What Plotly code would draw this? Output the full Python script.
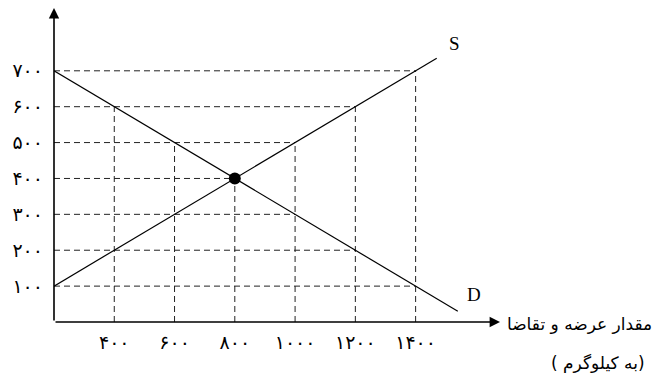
import plotly.graph_objects as go

# --- dados ---
quantity = [400, 600, 800, 1000, 1200, 1400]
demand_price = [600, 500, 400, 300, 200, 100]
supply_price = [200, 300, 400, 500, 600, 700]
price_ticks = [100, 200, 300, 400, 500, 600, 700]

# curvas (inclui pontos no eixo e extremidades)
demand_q = [200] + quantity + [1540]
demand_p = [700] + demand_price + [30]
supply_q = [200] + quantity + [1470]
supply_p = [100] + supply_price + [735]

eq_q, eq_p = 800, 400
q_min, q_max = 200, 1680
p_max = 875

FA = str.maketrans("0123456789", "۰۱۲۳۴۵۶۷۸۹")


def fa(n):
    return str(n).translate(FA)


fig = go.Figure()

# linhas tracejadas verticais (do eixo até a curva mais alta)
vx, vy = [], []
for q, d, s in zip(quantity, demand_price, supply_price):
    vx += [q, q, None]
    vy += [0, max(d, s), None]

# linhas tracejadas horizontais (do eixo até a curva mais distante)
hx, hy = [], []
for p in price_ticks:
    qd = demand_q[demand_p.index(p)]
    qs = supply_q[supply_p.index(p)]
    hx += [q_min, max(qd, qs), None]
    hy += [p, p, None]

dash_style = dict(color="#222", width=1, dash="6px,4px")
fig.add_trace(go.Scatter(x=vx, y=vy, mode="lines", line=dash_style, hoverinfo="skip"))
fig.add_trace(go.Scatter(x=hx, y=hy, mode="lines", line=dash_style, hoverinfo="skip"))

# curvas de oferta e demanda
fig.add_trace(go.Scatter(x=demand_q, y=demand_p, mode="lines",
                         line=dict(color="black", width=1.2), cliponaxis=False))
fig.add_trace(go.Scatter(x=supply_q, y=supply_p, mode="lines",
                         line=dict(color="black", width=1.2), cliponaxis=False))

# ponto de equilíbrio
fig.add_trace(go.Scatter(x=[eq_q], y=[eq_p], mode="markers",
                         marker=dict(color="black", size=12), cliponaxis=False))

# eixos com setas
fig.add_annotation(x=q_min, y=p_max, ax=q_min, ay=0, xref="x", yref="y",
                   axref="x", ayref="y", showarrow=True, arrowhead=2,
                   arrowsize=1.3, arrowwidth=1.6, arrowcolor="black", text="")
fig.add_annotation(x=q_max, y=0, ax=q_min, ay=0, xref="x", yref="y",
                   axref="x", ayref="y", showarrow=True, arrowhead=2,
                   arrowsize=1.3, arrowwidth=1.6, arrowcolor="black", text="")

serif = "Liberation Serif, Times New Roman, serif"
fig.add_annotation(x=1470, y=735, text="S", showarrow=False, xanchor="left",
                   yanchor="bottom", xshift=10, yshift=2,
                   font=dict(family=serif, size=19, color="black"))
fig.add_annotation(x=1540, y=30, text="D", showarrow=False, xanchor="left",
                   yanchor="bottom", xshift=7, yshift=4,
                   font=dict(family=serif, size=19, color="black"))

fig.add_annotation(x=q_max, y=0, text="مقدار عرضه و تقاضا", showarrow=False,
                   xanchor="left", yanchor="middle", xshift=5, yshift=-2,
                   font=dict(family="DejaVu Sans", size=17, color="black"))
fig.add_annotation(x=q_max, y=0, text="( به کیلوگرم)", showarrow=False,
                   xanchor="center", yanchor="middle", xshift=98, yshift=-41,
                   font=dict(family="DejaVu Sans", size=17, color="black"))

tick_font = dict(family="DejaVu Sans", size=19, color="black")
fig.update_xaxes(range=[q_min, q_max], tickvals=quantity,
                 ticktext=[fa(q) for q in quantity], tickfont=tick_font,
                 showgrid=False, zeroline=False, showline=False, automargin=False,
                 ticks="", ticklabelstandoff=7)
fig.update_yaxes(range=[0, p_max], tickvals=price_ticks,
                 ticktext=[fa(p) for p in price_ticks], tickfont=tick_font,
                 showgrid=False, zeroline=False, showline=False, automargin=False,
                 ticks="", ticklabelstandoff=10)

# a página tem margem de 8px no body: desconta no tamanho e nas margens
fig.update_layout(width=664, height=368, showlegend=False,
                  plot_bgcolor="white", paper_bgcolor="white",
                  margin=dict(l=46, r=172, t=0, b=54))

fig.write_html("out.html")
